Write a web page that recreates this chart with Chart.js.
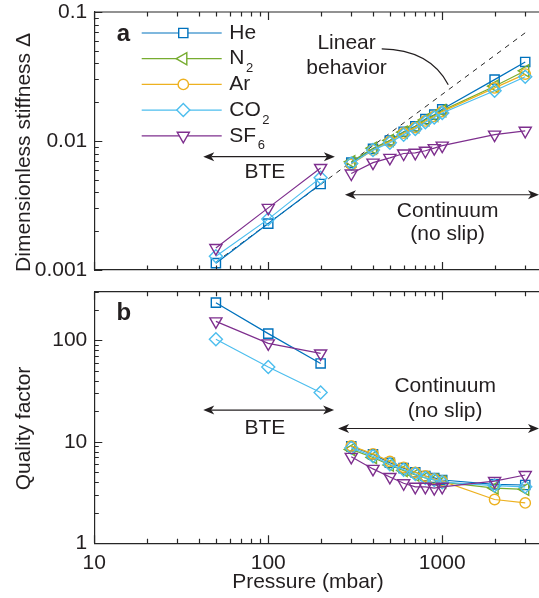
<!DOCTYPE html>
<html>
<head>
<meta charset="utf-8">
<script src="https://cdn.jsdelivr.net/npm/chart.js@4.4.1/dist/chart.umd.min.js"></script>
<style>
  html, body { margin: 0; padding: 0; background: #fff; overflow: hidden; }
  #wrap { position: relative; width: 539px; height: 598px; }
  canvas { position: absolute; left: 0; }
  #stiffChart { top: 0; }
  #qualityChart { top: 280px; }
</style>
</head>
<body>
<div id="wrap">
  <canvas id="stiffChart" width="539" height="290"></canvas>
  <canvas id="qualityChart" width="539" height="318"></canvas>
</div>
<script>
// pressure points (mbar), shared by every gas
const pressure = [50, 100, 200, 300, 400, 500, 600, 700, 800, 900, 1000, 2000, 3000];

// gases
const gasNames = ['He', 'N', 'Ar', 'CO', 'SF'];
const gasSubs = ['', '2', '', '2', '6'];
const gasColors = ['#0072BD', '#77AC30', '#EDB120', '#4DBEEE', '#7E2F8E'];

// panel a: dimensionless stiffness
const stiffHe  = [0.00113, 0.00229, 0.00464, 0.0068, 0.0087, 0.0101, 0.0118, 0.0130, 0.0148, 0.0160, 0.0176, 0.0299, 0.0410];
const stiffN2  = [null, null, null, 0.0069, 0.0088, 0.0101, 0.0117, 0.0129, 0.0146, 0.0158, 0.0172, 0.0266, 0.0350];
const stiffAr  = [null, null, null, 0.0066, 0.0085, 0.0099, 0.0115, 0.0127, 0.0143, 0.0155, 0.0169, 0.0258, 0.0330];
const stiffCO2 = [0.00128, 0.00248, 0.0052, 0.0067, 0.0085, 0.0097, 0.0112, 0.0124, 0.0140, 0.0152, 0.0165, 0.0245, 0.0315];
const stiffSF6 = [0.00148, 0.00303, 0.00618, 0.0056, 0.0068, 0.0074, 0.0080, 0.0081, 0.0084, 0.0088, 0.0092, 0.0112, 0.0120];

// dashed "linear behavior" guide (end points)
const linearP = [50, 3000];
const linearStiff = [0.00115, 0.069];

// panel b: quality factor
const qHe  = [234, 116, 59, 9.0, 7.5, 6.2, 5.5, 5.0, 4.6, 4.4, 4.2, 3.8, 3.75];
const qN2  = [null, null, null, 8.4, 7.0, 5.9, 5.2, 4.7, 4.4, 4.2, 4.0, 3.5, 3.4];
const qAr  = [null, null, null, 9.1, 7.6, 6.4, 5.6, 5.0, 4.6, 4.3, 4.1, 2.7, 2.5];
const qCO2 = [102, 54.5, 30.5, 8.7, 7.2, 6.0, 5.3, 4.8, 4.4, 4.2, 4.0, 3.7, 3.6];
const qSF6 = [153, 93, 74, 7.1, 5.4, 4.5, 3.9, 3.6, 3.6, 3.5, 3.6, 4.1, 4.7];

// tick labels
const xTicks = [10, 100, 1000];
const stiffTicks = [0.001, 0.01, 0.1];
const qTicks = [1, 10, 100];

const FONT = "'Liberation Sans', Arial, Helvetica, sans-serif";
const axisColor = '#262626';
const textColor = '#231f20';

// marker styles per gas
const markers = [
  { pointStyle: 'rect', rotation: 0, radius: 6.5 },
  { pointStyle: 'triangle', rotation: -90, radius: 7 },
  { pointStyle: 'circle', rotation: 0, radius: 5.2 },
  { pointStyle: 'rectRot', rotation: 0, radius: 6.5 },
  { pointStyle: 'triangle', rotation: 180, radius: 7 }
];

function gasDataset(i, values) {
  const m = markers[i];
  return {
    label: gasNames[i] + gasSubs[i],
    data: pressure.map((p, j) => ({ x: p, y: values[j] })),
    borderColor: gasColors[i],
    backgroundColor: 'rgba(0,0,0,0)',
    borderWidth: 1.2,
    pointStyle: m.pointStyle,
    pointRotation: m.rotation,
    pointRadius: m.radius,
    pointHoverRadius: m.radius,
    pointBorderWidth: 1.4,
    pointBorderColor: gasColors[i],
    pointBackgroundColor: 'rgba(0,0,0,0)',
    order: 5 - i,
    // no line between the BTE points and the continuum points
    segment: { borderColor: ctx => (ctx.p0.parsed.x === 200 ? 'rgba(0,0,0,0)' : undefined) }
  };
}

// inward MATLAB-like tick marks + top border
function drawFrame(chart) {
  const { ctx, chartArea: a, scales: { x, y } } = chart;
  ctx.save();
  ctx.strokeStyle = axisColor;
  ctx.lineWidth = 1.2;
  ctx.beginPath();
  ctx.moveTo(a.left, a.top);
  ctx.lineTo(a.right + 2, a.top);
  for (let e = 1; e <= 3; e++) {
    for (let k = 1; k < 10; k++) {
      const v = k * Math.pow(10, e);
      if (v < x.min || v > x.max) continue;
      const px = Math.round(x.getPixelForValue(v)) + 0.5;
      const len = k === 1 ? 8 : 4.5;
      ctx.moveTo(px, a.bottom); ctx.lineTo(px, a.bottom - len);
      ctx.moveTo(px, a.top); ctx.lineTo(px, a.top + len);
    }
  }
  const e0 = Math.round(Math.log10(y.min));
  const e1 = Math.round(Math.log10(y.max));
  for (let e = e0; e <= e1; e++) {
    for (let k = 1; k < 10; k++) {
      const v = k * Math.pow(10, e);
      if (v < y.min * 0.999 || v > y.max * 1.001) continue;
      const py = Math.round(y.getPixelForValue(v)) + 0.5;
      const len = k === 1 ? 8 : 4.5;
      ctx.moveTo(a.left, py); ctx.lineTo(a.left + len, py);
    }
  }
  ctx.stroke();
  ctx.restore();
}

function arrowHead(ctx, x, y, dir) {
  ctx.beginPath();
  ctx.moveTo(x, y);
  ctx.lineTo(x - dir * 11, y - 4.5);
  ctx.lineTo(x - dir * 8, y);
  ctx.lineTo(x - dir * 11, y + 4.5);
  ctx.closePath();
  ctx.fill();
}

function doubleArrow(chart, p1, p2, v) {
  const { ctx, scales: { x, y } } = chart;
  const x1 = x.getPixelForValue(p1), x2 = x.getPixelForValue(p2), py = y.getPixelForValue(v);
  ctx.beginPath();
  ctx.moveTo(x1 + 8, py);
  ctx.lineTo(x2 - 8, py);
  ctx.stroke();
  arrowHead(ctx, x1, py, -1);
  arrowHead(ctx, x2, py, 1);
}

function note(chart, text, p, v, font) {
  const { ctx, scales: { x, y } } = chart;
  ctx.font = font || `21px ${FONT}`;
  ctx.fillText(text, x.getPixelForValue(p), y.getPixelForValue(v));
}

// rotated y-axis title; baseline sits at x = 29.5
function yTitle(chart, text, cy) {
  const { ctx } = chart;
  ctx.save();
  ctx.translate(29.5, cy);
  ctx.rotate(-Math.PI / 2);
  ctx.textAlign = 'center';
  ctx.textBaseline = 'alphabetic';
  ctx.fillStyle = textColor;
  ctx.font = `21px ${FONT}`;
  ctx.fillText(text, 0, 0);
  ctx.restore();
}

function drawLegend(chart) {
  const { ctx, chartArea: a } = chart;
  const drawPoint = Chart.helpers && Chart.helpers.drawPoint;
  ctx.save();
  ctx.textAlign = 'left';
  ctx.textBaseline = 'middle';
  gasNames.forEach((name, i) => {
    const ry = a.top + 21 + i * 25.7;
    const x0 = a.left + 47.4, x1 = a.left + 127.4, xm = a.left + 89;
    ctx.strokeStyle = gasColors[i];
    ctx.lineWidth = 1.2;
    ctx.beginPath();
    ctx.moveTo(x0, ry); ctx.lineTo(x1, ry);
    ctx.stroke();
    if (drawPoint) {
      ctx.fillStyle = '#fff';
      ctx.lineWidth = 1.4;
      drawPoint(ctx, { pointStyle: markers[i].pointStyle, rotation: markers[i].rotation,
        radius: markers[i].radius, borderWidth: 1.4 }, xm, ry);
    }
    ctx.fillStyle = textColor;
    ctx.font = `21px ${FONT}`;
    const tx = a.left + 135;
    ctx.fillText(name, tx, ry);
    if (gasSubs[i]) {
      const w = ctx.measureText(name).width;
      ctx.font = `13px ${FONT}`;
      ctx.fillText(gasSubs[i], tx + w + 1.5, ry + 10);
    }
  });
  ctx.restore();
}

const stiffNotes = {
  id: 'stiffNotes',
  afterDraw(chart) {
    const { ctx, scales: { x, y } } = chart;
    drawFrame(chart);
    drawLegend(chart);
    yTitle(chart, 'Dimensionless stiffness \u0394', 152.5);
    ctx.save();
    ctx.fillStyle = textColor;
    ctx.strokeStyle = textColor;
    ctx.lineWidth = 1.2;
    ctx.textAlign = 'center';
    ctx.textBaseline = 'middle';
    note(chart, 'a', 14.7, 0.0667, `bold 24px ${FONT}`);
    doubleArrow(chart, 42.3, 241.5, 0.00756);
    note(chart, 'BTE', 95.7, 0.00568);
    doubleArrow(chart, 276, 3600, 0.00383);
    note(chart, 'Continuum', 1074, 0.00285);
    note(chart, '(no slip)', 1074, 0.00188);
    note(chart, 'Linear', 282, 0.0575);
    note(chart, 'behavior', 282, 0.0368);
    ctx.beginPath();
    ctx.moveTo(x.getPixelForValue(449), y.getPixelForValue(0.0517));
    ctx.quadraticCurveTo(x.getPixelForValue(849), y.getPixelForValue(0.051),
      x.getPixelForValue(1083), y.getPixelForValue(0.0273));
    ctx.stroke();
    ctx.restore();
  }
};

const qualityNotes = {
  id: 'qualityNotes',
  afterDraw(chart) {
    const { ctx } = chart;
    drawFrame(chart);
    yTitle(chart, 'Quality factor', 148.5);
    ctx.save();
    ctx.fillStyle = textColor;
    ctx.strokeStyle = textColor;
    ctx.lineWidth = 1.2;
    ctx.textAlign = 'center';
    ctx.textBaseline = 'middle';
    note(chart, 'b', 14.8, 184, `bold 24px ${FONT}`);
    doubleArrow(chart, 42.3, 239, 20.5);
    note(chart, 'BTE', 95.7, 13.5);
    doubleArrow(chart, 252, 3600, 13.5);
    note(chart, 'Continuum', 1040, 35.2);
    note(chart, '(no slip)', 1040, 19.8);
    // x-axis title
    ctx.textBaseline = 'alphabetic';
    ctx.font = `21px ${FONT}`;
    ctx.fillText('Pressure (mbar)', 308, 308);
    ctx.restore();
  }
};

function logAxis(min, max, ticks, lineHeight, extra) {
  return Object.assign({
    type: 'logarithmic',
    min: min,
    max: max,
    bounds: 'data',
    grid: { display: false, drawTicks: false },
    border: { display: true, color: axisColor, width: 1.2 },
    afterBuildTicks: s => { s.ticks = ticks.map(v => ({ value: v })); },
    ticks: {
      autoSkip: false, maxRotation: 0, padding: 7,
      color: textColor, font: { family: FONT, size: 21, lineHeight: lineHeight },
      callback: v => String(v)
    }
  }, extra);
}

Chart.defaults.font.family = FONT;

new Chart(document.getElementById('stiffChart'), {
  type: 'line',
  data: {
    datasets: [
      gasDataset(0, stiffHe), gasDataset(1, stiffN2), gasDataset(2, stiffAr),
      gasDataset(3, stiffCO2), gasDataset(4, stiffSF6),
      {
        label: 'Linear behavior',
        data: linearP.map((p, j) => ({ x: p, y: linearStiff[j] })),
        borderColor: axisColor, borderWidth: 1, borderDash: [5, 5],
        pointRadius: 0, order: 10
      }
    ]
  },
  options: {
    responsive: false,
    animation: false,
    layout: { autoPadding: false, padding: { top: 12, right: 0, bottom: 0, left: 0 } },
    plugins: { legend: { display: false }, tooltip: { enabled: false } },
    scales: {
      x: logAxis(10, 3600, xTicks, 1.0, {
        ticks: { display: false },
        afterFit: s => { s.height = 20; }
      }),
      y: logAxis(0.001, 0.1, stiffTicks, 0.4, {
        afterFit: s => { s.width = 94.3; }
      })
    }
  },
  plugins: [stiffNotes]
});

const xQuality = logAxis(10, 3600, xTicks, 1.0, { afterFit: s => { s.height = 54.7; } });
xQuality.ticks.padding = 9;

new Chart(document.getElementById('qualityChart'), {
  type: 'line',
  data: {
    datasets: [
      gasDataset(0, qHe), gasDataset(1, qN2), gasDataset(2, qAr),
      gasDataset(3, qCO2), gasDataset(4, qSF6)
    ]
  },
  options: {
    responsive: false,
    animation: false,
    layout: { autoPadding: false, padding: { top: 11.7, right: 0, bottom: 0, left: 0 } },
    plugins: { legend: { display: false }, tooltip: { enabled: false } },
    scales: {
      x: xQuality,
      y: logAxis(1, 300, qTicks, 0.4, {
        afterFit: s => { s.width = 94.3; }
      })
    }
  },
  plugins: [qualityNotes]
});
</script>
</body>
</html>
